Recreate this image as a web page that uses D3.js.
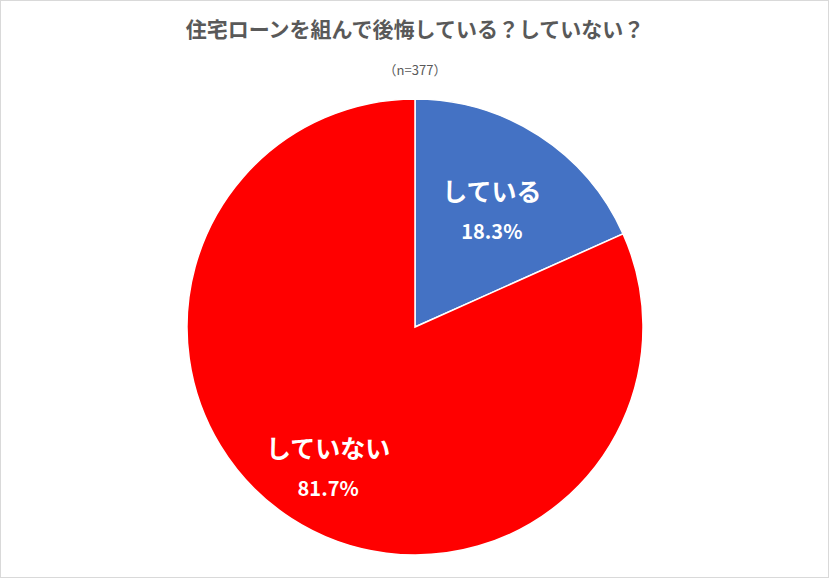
<!DOCTYPE html>
<html>
<head>
<meta charset="utf-8">
<script src="https://d3js.org/d3.v7.min.js"></script>
<style>
  body { margin: 0; background: #fff; }
  text { font-family: "Noto Sans CJK JP", "Noto Sans", sans-serif; }
</style>
</head>
<body>
<div id="chart"></div>
<script>
const labels = ["している", "していない"];
const values = [18.3, 81.7];
const colors = ["#4472c4", "#ff0000"];

const width = 829, height = 578;
const cx = 415, cy = 327, radius = 228;

const svg = d3.select("#chart").append("svg")
    .attr("width", width)
    .attr("height", height);

svg.append("rect")
    .attr("x", 0.5).attr("y", 0.5)
    .attr("width", width - 1).attr("height", height - 1)
    .attr("fill", "#fff").attr("stroke", "#d9d9d9");

svg.append("text")
    .attr("x", cx).attr("y", 37)
    .attr("text-anchor", "middle")
    .style("font-size", "21px").style("font-weight", "bold")
    .attr("fill", "#595959")
    .text("住宅ローンを組んで後悔している？していない？");

svg.append("text")
    .attr("x", cx).attr("y", 75)
    .attr("text-anchor", "middle")
    .style("font-size", "13px")
    .attr("fill", "#595959")
    .text("（n=377）");

const pie = d3.pie().sort(null).value(d => d)(values);
const arc = d3.arc().innerRadius(0).outerRadius(radius);
const labelArc = d3.arc().innerRadius(radius * 0.62).outerRadius(radius * 0.62);

const g = svg.append("g").attr("transform", `translate(${cx},${cy})`);

g.selectAll("path")
    .data(pie)
    .join("path")
    .attr("d", arc)
    .attr("fill", (d, i) => colors[i])
    .attr("stroke", "#fff")
    .attr("stroke-width", 1.5);

// ラベル
const offsets = [[0, 0], [-10, 20]];
pie.forEach((d, i) => {
    const [x, y] = labelArc.centroid(d);
    const t = g.append("text")
        .attr("x", x + offsets[i][0]).attr("y", y + offsets[i][1])
        .attr("text-anchor", "middle")
        .attr("fill", "#fff")
        .style("font-weight", "bold");
    t.append("tspan").attr("x", x + offsets[i][0]).attr("dy", "-0.3em")
        .style("font-size", "25px").text(labels[i]);
    t.append("tspan").attr("x", x + offsets[i][0]).attr("dy", "1.9em")
        .style("font-size", "20px").text(values[i].toFixed(1) + "%");
});
</script>
</body>
</html>
